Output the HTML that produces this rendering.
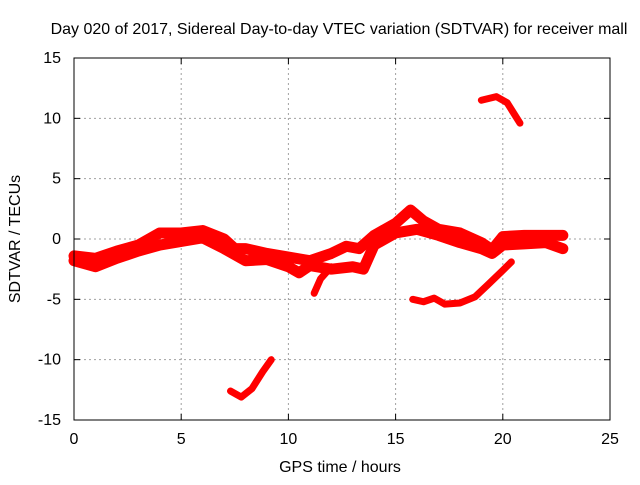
<!DOCTYPE html>
<html><head><meta charset="utf-8"><style>
body{margin:0;background:#fff;}
svg text{font-family:"Liberation Sans",sans-serif;font-size:16px;fill:#000;}
</style></head><body>
<svg id="chart" width="640" height="480" xmlns="http://www.w3.org/2000/svg">
<rect width="640" height="480" fill="#fff"/>
<text x="339" y="34" text-anchor="middle">Day 020 of 2017, Sidereal Day-to-day VTEC variation (SDTVAR) for receiver mall</text>
<g id="grid"></g>
<g id="series"></g>
<g id="axes"></g>
<text x="340" y="472" text-anchor="middle">GPS time / hours</text>
<text transform="translate(20,239) rotate(-90)" text-anchor="middle">SDTVAR / TECUs</text>
</svg>
<script>
const xTicks=[0,5,10,15,20,25];
const yTicks=[-15,-10,-5,0,5,10,15];
const upperH=[0,1,2,3,4,5,6,7,7.5,8,9,10,11,12,12.7,13.3,14,15,15.7,16.3,17,18,19,19.5,20,21,22,22.8];
const upperV=[-1.4,-1.6,-1.0,-0.5,0.5,0.5,0.7,0,-0.8,-0.8,-1.2,-1.5,-1.8,-1.2,-0.6,-0.8,0.3,1.3,2.4,1.5,0.8,0.5,-0.3,-0.9,0.2,0.3,0.3,0.3];
const lowerH=[0,1,2,3,4,5,6,7,8,9,10,10.5,11,12,13,13.5,14,15,16,17,18,19,19.5,20,21,22,22.8];
const lowerV=[-1.8,-2.3,-1.6,-1.0,-0.5,-0.2,0.1,-0.8,-1.8,-1.7,-2.3,-2.8,-2.2,-2.5,-2.3,-2.5,-0.5,0.5,0.8,0.3,-0.3,-0.8,-1.2,-0.5,-0.4,-0.3,-0.8];
const segAH=[11.2,11.5,12];
const segAV=[-4.5,-3.3,-2.3];
const arcH=[15.8,16.3,16.8,17.3,18,18.7,19.3,20,20.4];
const arcV=[-5.0,-5.2,-4.9,-5.4,-5.3,-4.8,-3.8,-2.6,-1.9];
const lowH=[7.3,7.8,8.3,8.8,9.2];
const lowV=[-12.6,-13.1,-12.4,-11.0,-10.0];
const highH=[19.0,19.7,20.2,20.8];
const highV=[11.5,11.8,11.3,9.6];

const X0=74,X1=610,Y0=420,Y1=58;
const sx=h=>X0+(h-0)/(25-0)*(X1-X0);
const sy=v=>Y0-(v+15)/30*(Y0-Y1);
const NS="http://www.w3.org/2000/svg";
const grid=document.getElementById('grid'),axes=document.getElementById('axes'),ser=document.getElementById('series');
function mk(tag,attrs,parent){const e=document.createElementNS(NS,tag);for(const k in attrs)e.setAttribute(k,attrs[k]);parent.appendChild(e);return e;}
xTicks.forEach(t=>{
  const x=sx(t);
  if(t>0&&t<25){const g=mk('line',{x1:x,x2:x,y1:Y1,y2:Y0,stroke:'#a0a0a0','stroke-dasharray':'2,3'},grid);
  
  }
  mk('line',{x1:x,x2:x,y1:Y0,y2:Y0-6,stroke:'#000'},axes);
  mk('line',{x1:x,x2:x,y1:Y1,y2:Y1+6,stroke:'#000'},axes);
  const l=mk('text',{x:x,y:Y0+24,'text-anchor':'middle'},axes);l.textContent=t;
  
  
});
yTicks.forEach(t=>{
  const y=sy(t);
  if(t>-15&&t<15){const g=mk('line',{x1:X0,x2:X1,y1:y,y2:y,stroke:'#a0a0a0','stroke-dasharray':'2,3'},grid);
  
  }
  mk('line',{x1:X0,x2:X0+6,y1:y,y2:y,stroke:'#000'},axes);
  mk('line',{x1:X1,x2:X1-6,y1:y,y2:y,stroke:'#000'},axes);
  const l=mk('text',{x:X0-13,y:y+5,'text-anchor':'end'},axes);l.textContent=t;
  
  
});
const b=mk('rect',{x:X0,y:Y1,width:X1-X0,height:Y0-Y1,fill:'none',stroke:'#000'},axes);


function series(H,V,w,name){
  const p=mk('polyline',{points:H.map((h,i)=>sx(h)+','+sy(V[i])).join(' '),fill:'none',stroke:'#ff0000','stroke-width':w,'stroke-linejoin':'round','stroke-linecap':'round'},ser);
  
  
}
series(upperH,upperV,11,'series-upper-band');
series(lowerH,lowerV,11,'series-lower-band');
series(segAH,segAV,7,'series-dip-11h');
series(arcH,arcV,7,'series-arc-16-20h');
series(lowH,lowV,7,'series-low-8h');
series(highH,highV,7,'series-high-20h');
</script>
</body></html>
